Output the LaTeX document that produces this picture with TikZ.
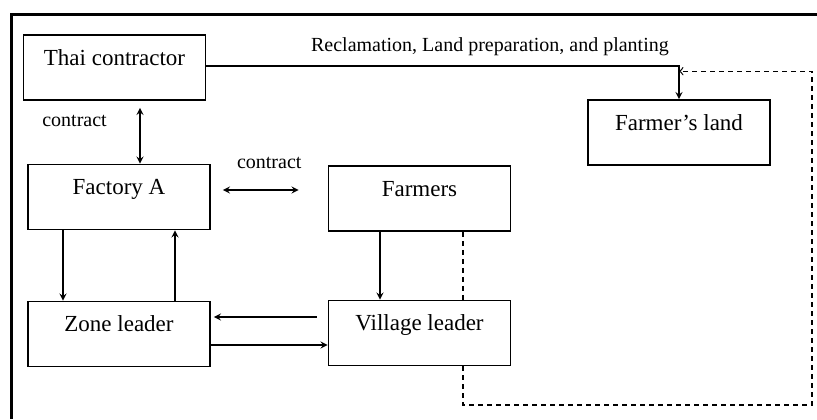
\documentclass[tikz,border=0pt]{standalone}
\usepackage{fontspec}
\setmainfont{Liberation Serif}
\usetikzlibrary{arrows,positioning,calc}

\begin{document}
\begin{tikzpicture}[x=0.5pt,y=-0.5pt,on grid,>=stealth,
   party/.style={draw,line width=0.8pt,minimum width=91pt,inner ysep=0pt,
     text height=15pt,text depth=17.5pt,font=\fontsize{11.5}{13}\selectfont},
   link/.style={line width=0.6pt},
   back/.style={line width=0.6pt,dash pattern=on 2.5pt off 2pt},
   lbl/.style={font=\fontsize{10}{12}\selectfont}]
   \useasboundingbox (0,0) rectangle (817,419);
   \draw[line width=1.5pt] (11,419) -- (11,14) -- (817,14);

   \node[party] (thai) at (114.5,67.5) {Thai contractor};
   \node[party] (factory) [below=64.75pt of thai,xshift=2.25pt] {Factory A};
   \node[party] (zone) [below=68.5pt of factory] {Zone leader};
   \node[party] (farmers) [right=150.25pt of factory,yshift=-0.75pt] {Farmers};
   \node[party] (village) [below=67.25pt of farmers] {Village leader};
   \node[party] (land) [right=129.75pt of farmers,yshift=33pt] {Farmer's land};

   \coordinate (hit) at ([yshift=14pt]land.north);
   \coordinate (turn) at (812,405);

   \draw[link,->] ([yshift=-0.5pt]thai.base east) -| (land.north)
      node[lbl,above=1.5pt,pos=0.3] {Reclamation, Land preparation, and planting};
   \draw[link,<->,shorten <=3.5pt] ([xshift=12.75pt]thai.south)
      -- ([xshift=12.75pt]thai.south |- factory.north)
      node[lbl,left=13pt,pos=0.32] {contract};
   \draw[link,<->,shorten <=6pt,shorten >=14.5pt] ([yshift=3.5pt]factory.east)
      -- ([yshift=3.5pt]factory.east -| farmers.west)
      node[lbl,above=7pt,midway] {contract};

   \draw[link,->] ([xshift=-28pt]factory.south) -- ([xshift=-28pt]zone.north);
   \draw[link,->] ([xshift=28pt]zone.north) -- ([xshift=28pt]factory.south);
   \draw[link,->] ([xshift=-19.75pt]farmers.south) -- ([xshift=-19.75pt]village.north);
   \draw[link,->,shorten <=5.5pt,shorten >=1.5pt] ([yshift=8pt]village.west)
      -- ([yshift=8pt]village.west -| zone.east);
   \draw[link,->] ([yshift=-5.5pt]zone.east) -- ([yshift=-5.5pt]zone.east -| village.west);

   % dashed feedback to the land
   \draw[back] ([xshift=21.75pt]farmers.south) -- ([xshift=21.75pt]village.north);
   \draw[back,-to] ([xshift=21.75pt]village.south) |- (turn) |- (hit);
\end{tikzpicture}
\end{document}
